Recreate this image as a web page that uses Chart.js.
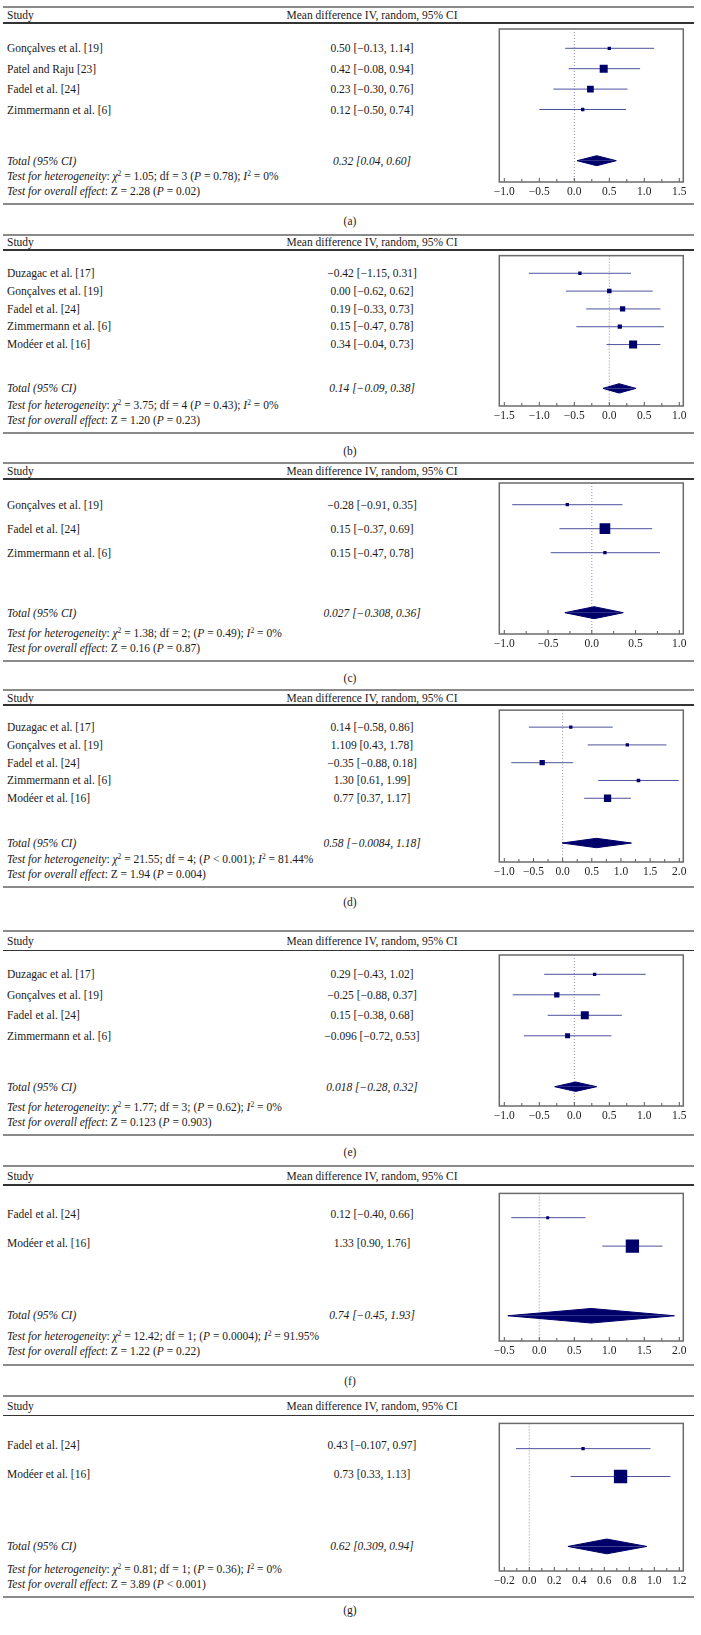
<!DOCTYPE html>
<html>
<head>
<meta charset="utf-8">
<script src="https://cdn.jsdelivr.net/npm/chart.js@4.4.1/dist/chart.umd.min.js"></script>
<style>
  body { margin: 0; background: #fff; }
  #page { position: relative; width: 701px; height: 1635px; background: #fff; overflow: hidden;
          font-family: 'Liberation Serif', 'Times New Roman', serif; font-size: 11.5px; color: #1a1a1a; }
  .t { position: absolute; height: 14px; line-height: 14px; white-space: nowrap; }
  .c { text-align: center; width: 300px; }
  .rule { position: absolute; left: 3px; width: 691px; }
  sup { font-size: 7.5px; line-height: 0; vertical-align: 4px; }
  canvas { position: absolute; }
</style>
</head>
<body>
<div id="page"></div>
<script>
// (a)
const studiesA = ['Gonçalves et al. [19]', 'Patel and Raju [23]', 'Fadel et al. [24]', 'Zimmermann et al. [6]'];
const mdA = [0.50, 0.42, 0.23, 0.12];
const loA = [-0.13, -0.08, -0.30, -0.50];
const hiA = [1.14, 0.94, 0.76, 0.74];
const wA = [11, 64, 45, 11];
const totalA = [0.32, 0.04, 0.60];
const ticksA = [-1.0, -0.5, 0, 0.5, 1.0, 1.5];

// (b)
const studiesB = ['Duzagac et al. [17]', 'Gonçalves et al. [19]', 'Fadel et al. [24]', 'Zimmermann et al. [6]', 'Modéer et al. [16]'];
const mdB = [-0.42, 0.00, 0.19, 0.15, 0.34];
const loB = [-1.15, -0.62, -0.33, -0.47, -0.04];
const hiB = [0.31, 0.62, 0.73, 0.78, 0.73];
const wB = [11, 20, 28, 18, 64];
const totalB = [0.14, -0.09, 0.38];
const ticksB = [-1.5, -1.0, -0.5, 0, 0.5, 1.0];

// (c)
const studiesC = ['Gonçalves et al. [19]', 'Fadel et al. [24]', 'Zimmermann et al. [6]'];
const mdC = [-0.28, 0.15, 0.15];
const loC = [-0.91, -0.37, -0.47];
const hiC = [0.35, 0.69, 0.78];
const wC = [11, 114, 11];
const totalC = [0.027, -0.308, 0.36];
const ticksC = [-1.0, -0.5, 0, 0.5, 1.0];

// (d)
const studiesD = ['Duzagac et al. [17]', 'Gonçalves et al. [19]', 'Fadel et al. [24]', 'Zimmermann et al. [6]', 'Modéer et al. [16]'];
const mdD = [0.14, 1.109, -0.35, 1.30, 0.77];
const loD = [-0.58, 0.43, -0.88, 0.61, 0.37];
const hiD = [0.86, 1.78, 0.18, 1.99, 1.17];
const wD = [11, 11, 28, 13, 53];
const totalD = [0.58, -0.0084, 1.18];
const ticksD = [-1.0, -0.5, 0, 0.5, 1.0, 1.5, 2.0];

// (e)
const studiesE = ['Duzagac et al. [17]', 'Gonçalves et al. [19]', 'Fadel et al. [24]', 'Zimmermann et al. [6]'];
const mdE = [0.29, -0.25, 0.15, -0.096];
const loE = [-0.43, -0.88, -0.38, -0.72];
const hiE = [1.02, 0.37, 0.68, 0.53];
const wE = [11, 28, 64, 25];
const totalE = [0.018, -0.28, 0.32];
const ticksE = [-1.0, -0.5, 0, 0.5, 1.0, 1.5];

// (f)
const studiesF = ['Fadel et al. [24]', 'Modéer et al. [16]'];
const mdF = [0.12, 1.33];
const loF = [-0.40, 0.90];
const hiF = [0.66, 1.76];
const wF = [9, 177];
const totalF = [0.74, -0.45, 1.93];
const ticksF = [-0.5, 0, 0.5, 1.0, 1.5, 2.0];

// (g)
const studiesG = ['Fadel et al. [24]', 'Modéer et al. [16]'];
const mdG = [0.43, 0.73];
const loG = [-0.107, 0.33];
const hiG = [0.97, 1.13];
const wG = [11, 177];
const totalG = [0.62, 0.309, 0.94];
const ticksG = [-0.2, 0, 0.2, 0.4, 0.6, 0.8, 1.0, 1.2];

const hetText = [
  '<i>χ</i><sup>2</sup> = 1.05; df = 3 (<i>P</i> = 0.78); <i>I</i><sup>2</sup> = 0%',
  '<i>χ</i><sup>2</sup> = 3.75; df = 4 (<i>P</i> = 0.43); <i>I</i><sup>2</sup> = 0%',
  '<i>χ</i><sup>2</sup> = 1.38; df = 2; (<i>P</i> = 0.49); <i>I</i><sup>2</sup> = 0%',
  '<i>χ</i><sup>2</sup> = 21.55; df = 4; (<i>P</i> &lt; 0.001); <i>I</i><sup>2</sup> = 81.44%',
  '<i>χ</i><sup>2</sup> = 1.77; df = 3; (<i>P</i> = 0.62); <i>I</i><sup>2</sup> = 0%',
  '<i>χ</i><sup>2</sup> = 12.42; df = 1; (<i>P</i> = 0.0004); <i>I</i><sup>2</sup> = 91.95%',
  '<i>χ</i><sup>2</sup> = 0.81; df = 1; (<i>P</i> = 0.36); <i>I</i><sup>2</sup> = 0%'
];
const overallText = [
  'Z = 2.28 (<i>P</i> = 0.02)',
  'Z = 1.20 (<i>P</i> = 0.23)',
  'Z = 0.16 (<i>P</i> = 0.87)',
  'Z = 1.94 (<i>P</i> = 0.004)',
  'Z = 0.123 (<i>P</i> = 0.903)',
  'Z = 1.22 (<i>P</i> = 0.22)',
  'Z = 3.89 (<i>P</i> &lt; 0.001)'
];
const panelLabels = ['(a)', '(b)', '(c)', '(d)', '(e)', '(f)', '(g)'];

const panels = [
  [studiesA, mdA, loA, hiA, wA, totalA, ticksA],
  [studiesB, mdB, loB, hiB, wB, totalB, ticksB],
  [studiesC, mdC, loC, hiC, wC, totalC, ticksC],
  [studiesD, mdD, loD, hiD, wD, totalD, ticksD],
  [studiesE, mdE, loE, hiE, wE, totalE, ticksE],
  [studiesF, mdF, loF, hiF, wF, totalF, ticksF],
  [studiesG, mdG, loG, hiG, wG, totalG, ticksG]
];

// page layout in px (rules, plot box, row spacing, diamond half height)
const layouts = [
  { top: 7, head: 23, box: [29, 182], row0: 48.3, step: 20.4, tot: 160.7, dh: 5, rule: 204, label: 221 },
  { top: 234.5, head: 250, box: [255, 406], row0: 272.7, step: 17.9, tot: 388.3, dh: 4.7, rule: 433, label: 451 },
  { top: 463, head: 479, box: [483, 634], row0: 504.7, step: 24, tot: 612.7, dh: 6, rule: 661, label: 678 },
  { top: 690, head: 705, box: [710, 862], row0: 727, step: 17.8, tot: 843, dh: 4.7, rule: 887, label: 902 },
  { top: 931, head: 950.5, box: [955, 1106], row0: 974.3, step: 20.5, tot: 1086.7, dh: 4.7, rule: 1135, label: 1152 },
  { top: 1166, head: 1185, box: [1189, 1341], row0: 1214, step: 29.3, tot: 1315, dh: 7.5, rule: 1364.5, label: 1381 },
  { top: 1396, head: 1415.5, box: [1419, 1571], row0: 1445, step: 28.7, tot: 1545.7, dh: 7.6, rule: 1597, label: 1610 }
];

const BOX_L = 499.3, BOX_R = 683.3, CAN_L = 480, CAN_W = 215;
const VAL_X = 372;
const navy = '#00006b';
const ciColor = '#4d529c';
const serif = "'Liberation Serif', 'Times New Roman', serif";

const page = document.getElementById('page');

function fmt(v) {
  let s = Math.abs(v).toString();
  if ((s.split('.')[1] || '').length < 2) s = Math.abs(v).toFixed(2);
  return (v < 0 ? '\u2212' : '') + s;
}

function txt(html, x, y, center) {
  const d = document.createElement('div');
  d.className = center ? 't c' : 't';
  d.style.left = (center ? x - 150 : x) + 'px';
  d.style.top = (y - 7) + 'px';
  d.innerHTML = html;
  page.appendChild(d);
}

function rule(y, h, color) {
  const d = document.createElement('div');
  d.className = 'rule';
  d.style.top = (y - h / 2) + 'px';
  d.style.height = h + 'px';
  d.style.background = color;
  page.appendChild(d);
}

const boxPlugin = {
  id: 'boxPlugin',
  afterDraw(chart, args, opts) {
    const { ctx, chartArea: a, scales: { x } } = chart;
    ctx.save();
    ctx.strokeStyle = '#555';
    ctx.lineWidth = 1;
    const tk = opts.ticks;
    for (let i = 0; i < tk.length; i++) {
      const px = x.getPixelForValue(tk[i]);
      ctx.beginPath(); ctx.moveTo(px, a.bottom); ctx.lineTo(px, a.bottom - 4); ctx.stroke();
      if (i < tk.length - 1) {
        const pm = x.getPixelForValue((tk[i] + tk[i + 1]) / 2);
        ctx.beginPath(); ctx.moveTo(pm, a.bottom); ctx.lineTo(pm, a.bottom - 3); ctx.stroke();
      }
    }
    ctx.strokeStyle = '#6b6b6b';
    ctx.lineWidth = 1.5;
    ctx.strokeRect(a.left, a.top, a.right - a.left, a.bottom - a.top);
    ctx.restore();
  }
};

panels.forEach(([studies, md, lo, hi, w, total, ticks], p) => {
  const L = layouts[p];

  rule(L.top, 2, '#8a8a8a');
  txt('Study', 7, (L.top + L.head) / 2);
  txt('Mean difference IV, random, 95% CI', VAL_X, (L.top + L.head) / 2, true);
  rule(L.head, 1.2, '#333');

  studies.forEach((s, i) => {
    const y = L.row0 + L.step * i;
    txt(s, 7, y);
    txt(fmt(md[i]) + ' [' + fmt(lo[i]) + ', ' + fmt(hi[i]) + ']', VAL_X, y, true);
  });
  txt('<i>Total (95% CI)</i>', 7, L.tot);
  txt('<i>' + fmt(total[0]) + ' [' + fmt(total[1]) + ', ' + fmt(total[2]) + ']</i>', VAL_X, L.tot, true);
  txt('<i>Test for heterogeneity</i>: ' + hetText[p], 7, L.rule - 28.5);
  txt('<i>Test for overall effect</i>: ' + overallText[p], 7, L.rule - 13.5);
  rule(L.rule, 2, '#8a8a8a');
  txt(panelLabels[p], 350, L.label, true);

  // plot
  const boxH = L.box[1] - L.box[0];
  const cv = document.createElement('canvas');
  cv.width = CAN_W;
  cv.height = boxH + 5 + 24;
  cv.style.left = CAN_L + 'px';
  cv.style.top = (L.box[0] - 5) + 'px';
  page.appendChild(cv);

  const t0 = ticks[0], t1 = ticks[ticks.length - 1];
  const span = (t1 - t0) / 175;
  const xMin = t0 - 5 * span, xMax = t1 + 4 * span;
  const yMin = (L.box[0] - L.row0) / L.step;
  const yMax = (L.box[1] - L.row0) / L.step;
  const tY = (L.tot - L.row0) / L.step;
  const dY = L.dh / L.step;

  const ciData = [];
  md.forEach((m, i) => {
    ciData.push({ x: lo[i], y: i }, { x: hi[i], y: i }, { x: hi[i], y: null });
  });

  new Chart(cv.getContext('2d'), {
    type: 'line',
    data: {
      datasets: [
        {
          data: md.map((m, i) => ({ x: m, y: i })),
          showLine: false,
          pointStyle: 'rect',
          pointRadius: ctx => Math.sqrt(w[ctx.dataIndex]) / Math.SQRT2,
          pointBackgroundColor: navy,
          pointBorderWidth: 0
        },
        {
          data: [{ x: total[1], y: tY }, { x: total[0], y: tY - dY }, { x: total[2], y: tY }],
          borderColor: navy, borderWidth: 1, backgroundColor: navy,
          fill: { value: tY }, pointRadius: 0, tension: 0
        },
        {
          data: [{ x: total[1], y: tY }, { x: total[0], y: tY + dY }, { x: total[2], y: tY }],
          borderColor: navy, borderWidth: 1, backgroundColor: navy,
          fill: { value: tY }, pointRadius: 0, tension: 0
        },
        {
          data: ciData,
          borderColor: ciColor, borderWidth: 1, pointRadius: 0, spanGaps: false
        },
        {
          data: [{ x: 0, y: yMin }, { x: 0, y: yMax }],
          borderColor: '#8c8cb8', borderWidth: 1, borderDash: [1, 2], pointRadius: 0
        }
      ]
    },
    options: {
      responsive: false,
      devicePixelRatio: 1,
      animation: false,
      events: [],
      layout: { padding: { left: BOX_L - CAN_L, right: CAN_L + CAN_W - BOX_R, top: 5, bottom: 0 } },
      plugins: { legend: { display: false }, tooltip: { enabled: false }, boxPlugin: { ticks: ticks } },
      scales: {
        x: {
          type: 'linear',
          min: xMin,
          max: xMax,
          grid: { display: false, drawTicks: false },
          border: { display: false },
          afterBuildTicks: s => { s.ticks = ticks.map(v => ({ value: v })); },
          afterFit: s => { s.height = 24; },
          ticks: {
            autoSkip: false,
            maxRotation: 0,
            padding: 3,
            color: '#222',
            font: { family: serif, size: 11.5 },
            callback: v => (Math.abs(v) < 1e-9 ? '0.0' : v.toFixed(1).replace('-', '\u2212'))
          }
        },
        y: {
          type: 'linear',
          display: false,
          reverse: true,
          min: yMin,
          max: yMax
        }
      }
    },
    plugins: [boxPlugin]
  });
});
</script>
</body>
</html>
